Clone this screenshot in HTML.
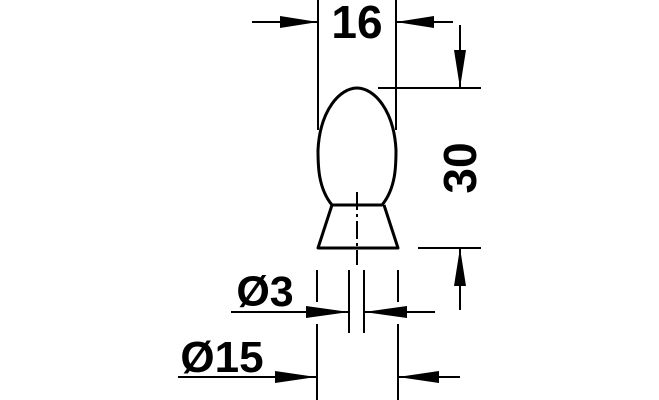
<!DOCTYPE html>
<html><head><style>
body{margin:0;background:#fff}
svg{display:block}
text{font-family:"Liberation Sans",sans-serif;font-weight:bold;fill:#000}
</style></head><body>
<svg width="659" height="400" viewBox="0 0 659 400" xmlns="http://www.w3.org/2000/svg">
<g stroke="#000" stroke-width="2" fill="none">
<line x1="318" y1="0" x2="318" y2="130"/>
<line x1="396" y1="0" x2="396" y2="130"/>
<line x1="252" y1="22" x2="318" y2="22"/>
<line x1="396" y1="22" x2="453" y2="22"/>
<line x1="460" y1="25" x2="460" y2="88"/>
<line x1="378" y1="88" x2="481" y2="88"/>
<line x1="418" y1="248" x2="481" y2="248"/>
<line x1="460" y1="248" x2="460" y2="310"/>
<line x1="317" y1="270" x2="317" y2="302"/>
<line x1="317" y1="324" x2="317" y2="400"/>
<line x1="398" y1="270" x2="398" y2="302"/>
<line x1="398" y1="324" x2="398" y2="400"/>
<line x1="349" y1="270" x2="349" y2="333"/>
<line x1="364" y1="270" x2="364" y2="333"/>
<line x1="357" y1="192" x2="357" y2="265" stroke-dasharray="18,4,3,4"/>
<line x1="231" y1="312" x2="349" y2="312"/>
<line x1="364" y1="312" x2="435" y2="312"/>
<line x1="178" y1="377" x2="316" y2="377"/>
<line x1="398" y1="377" x2="460" y2="377"/>
</g>
<g stroke="#000" stroke-width="3" fill="none" stroke-linejoin="round">
<path d="M332,205 C318,188 318,165 318,150 C320,110 340,88 357,88 C374,88 394,110 396,150 C396,165 396,188 382,205 Z"/>
<path d="M332,205 L318,248 L398,248 L384,205"/>
</g>
<g fill="#000">
<polygon points="318,22 280,16 280,28"/>
<polygon points="396,22 434,16 434,28"/>
<polygon points="460,88 454,50 466,50"/>
<polygon points="460,248 454,286 466,286"/>
<polygon points="349,312 306,306 306,318"/>
<polygon points="364,312 407,306 407,318"/>
<polygon points="316,377 275,371 275,383"/>
<polygon points="398,377 439,371 439,383"/>
</g>
<text x="357" y="38" font-size="46" text-anchor="middle">16</text>
<text x="0" y="0" font-size="46" text-anchor="middle" transform="translate(476,168) rotate(-90)">30</text>
<text x="265" y="306" font-size="43" text-anchor="middle">Ø3</text>
<text x="222" y="372" font-size="44" text-anchor="middle">Ø15</text>
</svg>
</body></html>
